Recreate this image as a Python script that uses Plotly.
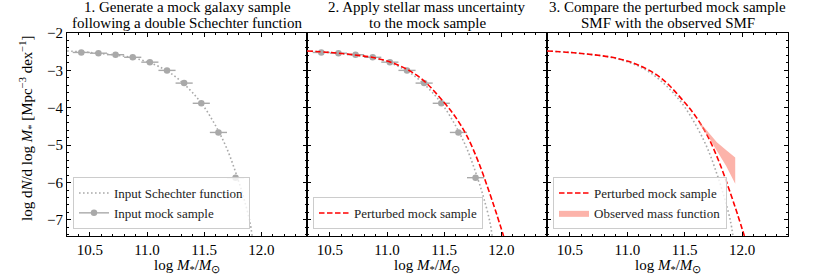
import plotly.graph_objects as go

# ---------------- data ----------------
# mock sample points (bin centres, log phi)
mock_x = [10.425, 10.575, 10.725, 10.875, 11.025, 11.175, 11.325, 11.475, 11.625, 11.775]
mock_y = [-2.52, -2.54, -2.58, -2.65, -2.78, -3.00, -3.34, -3.88, -4.66, -5.87]
mock_xerr = [0.075] * 10

# input double Schechter function
sch_x = [10.30, 10.40, 10.50, 10.60, 10.70, 10.80, 10.90, 11.00, 11.10, 11.20,
         11.30, 11.40, 11.50, 11.60, 11.70, 11.80, 11.85, 11.90, 11.92]
sch_y = [-2.48, -2.50, -2.52, -2.55, -2.58, -2.62, -2.68, -2.77, -2.89, -3.06,
         -3.30, -3.60, -3.98, -4.48, -5.10, -5.95, -6.45, -7.05, -7.43]

# perturbed mock sample SMF (red dashed)
pert_x = [10.30, 10.50, 10.70, 10.90, 11.10, 11.30, 11.50, 11.60, 11.70, 11.80,
          11.90, 11.96, 12.02]
pert_y = [-2.48, -2.52, -2.58, -2.67, -2.86, -3.22, -3.86, -4.25, -4.76, -5.45,
          -6.30, -6.85, -7.43]

# observed mass function band
obs_x = [11.63, 11.70, 11.78, 11.86, 11.94]
obs_hi = [-4.38, -4.62, -4.92, -5.13, -5.33]
obs_lo = [-4.45, -4.75, -5.15, -5.55, -6.03]

titles = [["1. Generate a mock galaxy sample", "following a double Schechter function"],
          ["2. Apply stellar mass uncertainty", "to the mock sample"],
          ["3. Compare the perturbed mock sample", "SMF with the observed SMF"]]

x_ticks = [10.5, 11.0, 11.5, 12.0]
x_ticklabels = ["10.5", "11.0", "11.5", "12.0"]
y_ticks = [-2, -3, -4, -5, -6, -7]
y_ticklabels = ["\u22122", "\u22123", "\u22124", "\u22125", "\u22126", "\u22127"]

# ---------------- style ----------------
FONT = "Liberation Serif"
GREY = "#a9a9a9"
RED = "red"
BAND = "rgba(250,128,114,0.6)"
DOT = "1.6px,2.4px"
DASH = "5.5px,2.5px"

W, H = 830, 277
L, R, T, B = 67, 42, 33, 41
edges = [67, 307, 547, 788]
pw = W - L - R
ph = H - T - B
doms = [[(edges[i] - L) / pw, (edges[i + 1] - L) / pw] for i in range(3)]

def px2x(px):
    return (px - L) / pw

def py2y(py):
    return (H - B - py) / ph

fig = go.Figure()

def xa(i):
    return "x" if i == 0 else f"x{i+1}"

def ya(i):
    return "y" if i == 0 else f"y{i+1}"

for i in range(3):
    lg = "legend" if i == 0 else f"legend{i+1}"
    # dotted Schechter
    fig.add_trace(go.Scatter(
        x=sch_x, y=sch_y, mode="lines", line=dict(color=GREY, dash=DOT, width=1.6, shape="spline"),
        name="Input Schechter function", showlegend=(i == 0), legend=lg,
        xaxis=xa(i), yaxis=ya(i)))
    if i < 2:
        fig.add_trace(go.Scatter(
            x=mock_x, y=mock_y, mode="markers",
            marker=dict(color=GREY, size=6.5),
            error_x=dict(type="data", array=mock_xerr, color=GREY, thickness=1.4, width=0),
            name="Input mock sample", showlegend=False, legend=lg,
            xaxis=xa(i), yaxis=ya(i)))
        if i == 0:
            # legend entry: marker with a line through it (errorbar style)
            fig.add_trace(go.Scatter(
                x=[None], y=[None], mode="lines+markers",
                marker=dict(color=GREY, size=6.5), line=dict(color=GREY, width=1.4),
                name="Input mock sample", showlegend=True, legend=lg,
                xaxis=xa(i), yaxis=ya(i)))
    if i >= 1:
        fig.add_trace(go.Scatter(
            x=pert_x, y=pert_y, mode="lines",
            line=dict(color=RED, dash=DASH, width=1.6, shape="spline"),
            name="Perturbed mock sample", showlegend=True, legend=lg,
            xaxis=xa(i), yaxis=ya(i)))
    if i == 2:
        fig.add_trace(go.Scatter(
            x=obs_x + obs_x[::-1], y=obs_hi + obs_lo[::-1], mode="lines",
            fill="toself", fillcolor=BAND, line=dict(width=0, color=BAND),
            name="Observed mass function", showlegend=True, legend=lg,
            xaxis=xa(i), yaxis=ya(i)))

axis_common = dict(
    showline=True, linecolor="black", linewidth=1, mirror="allticks",
    ticks="inside", ticklen=4, tickwidth=1, tickcolor="black",
    showgrid=False, zeroline=False,
    tickfont=dict(family=FONT, size=15, color="black"),
)

layout = dict(
    width=W, height=H, plot_bgcolor="white", paper_bgcolor="white",
    margin=dict(l=L, r=R, t=T, b=B),
    font=dict(family=FONT, size=14, color="black"),
    showlegend=True,
)

for i in range(3):
    k = "" if i == 0 else str(i + 1)
    layout["xaxis" + k] = dict(
        axis_common, domain=doms[i], range=[10.3, 12.4], anchor=ya(i),
        tickvals=x_ticks, ticktext=x_ticklabels,
        minor=dict(ticks="inside", ticklen=2, dtick=0.1, tickcolor="black", showgrid=False),
    )
    layout["yaxis" + k] = dict(
        axis_common, domain=[0, 1], range=[-7.43, -2], anchor=xa(i),
        tickvals=y_ticks, ticktext=y_ticklabels,
        minor=dict(ticks="inside", ticklen=2, dtick=0.2, tickcolor="black", showgrid=False),
        showticklabels=(i == 0),
    )

leg_common = dict(
    bgcolor="rgba(255,255,255,0.8)", bordercolor="#cccccc", borderwidth=1,
    font=dict(family=FONT, size=13, color="#222222"),
    xanchor="left", yanchor="bottom", y=py2y(229), tracegroupgap=0, itemwidth=30,
)
layout["legend"] = dict(leg_common, x=px2x(73))
layout["legend2"] = dict(leg_common, x=px2x(313))
layout["legend3"] = dict(leg_common, x=px2x(553))

fig.update_layout(**layout)

# panel titles (two lines each) and x-axis labels
for i in range(3):
    cx = (edges[i] + edges[i + 1]) / 2
    for txt, py in zip(titles[i], [7.5, 22.5]):
        fig.add_annotation(
            text=txt, x=px2x(cx), y=py2y(py), xref="paper", yref="paper",
            xanchor="center", yanchor="middle", showarrow=False,
            font=dict(family=FONT, size=15, color="black"), align="center")
    fig.add_annotation(
        text="log <i>M</i><sub>*</sub>/<i>M</i><sub>\u2299</sub>",
        x=px2x(cx), y=py2y(266), xref="paper", yref="paper",
        xanchor="center", yanchor="middle", showarrow=False,
        font=dict(family=FONT, size=15, color="black"))

# y-axis label
fig.add_annotation(
    text="log d<i>N</i>/d log <i>M</i><sub>*</sub> [Mpc<sup>\u22123</sup> dex<sup>\u22121</sup>]",
    x=px2x(27), y=py2y(128), xref="paper", yref="paper",
    xanchor="center", yanchor="middle", textangle=-90, showarrow=False,
    font=dict(family=FONT, size=15, color="black"))

fig.write_html("out.html", config={"displayModeBar": False},
               post_script="document.body.style.margin='0';document.body.style.padding='0';"
                           "window.dispatchEvent(new Event('resize'));")
